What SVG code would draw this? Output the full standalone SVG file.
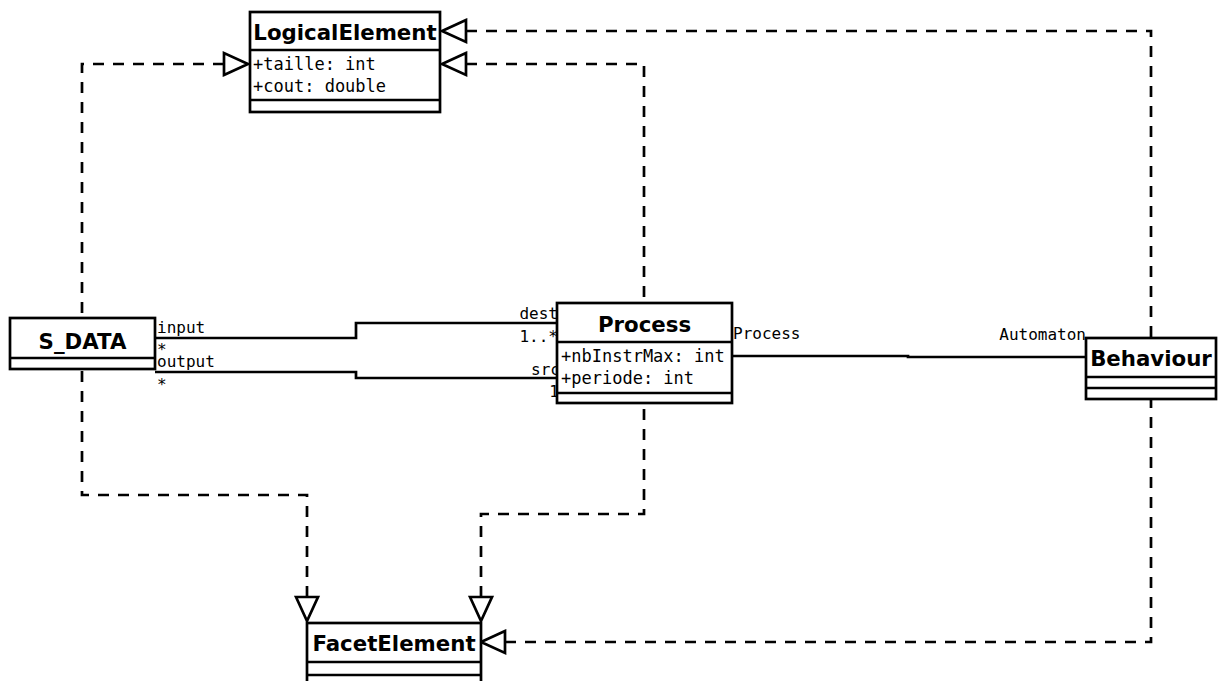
<svg xmlns="http://www.w3.org/2000/svg" width="1218" height="681" viewBox="0 0 1218 681">
<style>
.box{fill:#fff;stroke:#000;stroke-width:2.7}
.sep{stroke:#000;stroke-width:2.7}
.title{font-family:"DejaVu Sans",sans-serif;font-weight:bold;font-size:21.3px;text-anchor:middle;fill:#000}
.attr{font-family:"DejaVu Sans Mono",monospace;font-size:17px;fill:#000}
.lbl{font-family:"DejaVu Sans Mono",monospace;font-size:16px;fill:#000}
.end{text-anchor:end}
.dash{fill:none;stroke:#000;stroke-width:2.7;stroke-dasharray:11,9;marker-start:url(#gen)}
.assoc{fill:none;stroke:#000;stroke-width:2.7}
</style>
<defs>
<marker id="gen" markerUnits="userSpaceOnUse" orient="auto" refX="0" refY="0" markerWidth="1" markerHeight="1" overflow="visible">
<path d="M0,-11 L-24,0 L0,11 Z" fill="#fff" stroke="#000" stroke-width="2.7" stroke-dasharray="none"/>
</marker>
</defs>
<g id="connectors">
<path class="dash" d="M224,64 H82 V318"/>
<path class="dash" d="M466,64 H644 V303"/>
<path class="dash" d="M466,31 H1151 V338"/>
<path class="dash" d="M307,597 V495 H82 V369"/>
<path class="dash" d="M481,597 V514 H644 V403"/>
<path class="dash" d="M505,642 H1151 V400"/>
<path class="assoc" d="M155,338 H356 V323 H557"/>
<path class="assoc" d="M155,372 H356 V378 H557"/>
<path class="assoc" d="M732,356 H908 V357 H1086"/>
<text class="lbl" x="157" y="333">input</text>
<text class="lbl" x="157" y="355">*</text>
<text class="lbl" x="157" y="367">output</text>
<text class="lbl" x="157" y="390">*</text>
<text class="lbl end" x="558" y="319">dest</text>
<text class="lbl end" x="558" y="342">1..*</text>
<text class="lbl end" x="560" y="375">src</text>
<text class="lbl end" x="559" y="397">1</text>
<text class="lbl" x="733" y="339">Process</text>
<text class="lbl end" x="1086" y="340">Automaton</text>
</g>
<g id="LogicalElement">
<rect class="box" x="250" y="12" width="190" height="100"/>
<line class="sep" x1="250" y1="50" x2="440" y2="50"/>
<line class="sep" x1="250" y1="100" x2="440" y2="100"/>
<text class="title" x="345" y="40">LogicalElement</text>
<text class="attr" x="253" y="70">+taille: int</text>
<text class="attr" x="253" y="92">+cout: double</text>
</g>
<g id="S_DATA">
<rect class="box" x="10" y="318" width="145" height="51"/>
<line class="sep" x1="10" y1="358" x2="155" y2="358"/>
<text class="title" x="82.5" y="349">S_DATA</text>
</g>
<g id="Process">
<rect class="box" x="557" y="303" width="175" height="100"/>
<line class="sep" x1="557" y1="342" x2="732" y2="342"/>
<line class="sep" x1="557" y1="393" x2="732" y2="393"/>
<text class="title" x="644.5" y="332">Process</text>
<text class="attr" x="561" y="362">+nbInstrMax: int</text>
<text class="attr" x="561" y="384">+periode: int</text>
</g>
<g id="Behaviour">
<rect class="box" x="1086" y="338" width="130" height="61"/>
<line class="sep" x1="1086" y1="377" x2="1216" y2="377"/>
<line class="sep" x1="1086" y1="388" x2="1216" y2="388"/>
<text class="title" x="1151" y="366">Behaviour</text>
</g>
<g id="FacetElement">
<rect class="box" x="307" y="623" width="174" height="70"/>
<line class="sep" x1="307" y1="662" x2="481" y2="662"/>
<line class="sep" x1="307" y1="675" x2="481" y2="675"/>
<text class="title" x="394" y="651">FacetElement</text>
</g>
</svg>
